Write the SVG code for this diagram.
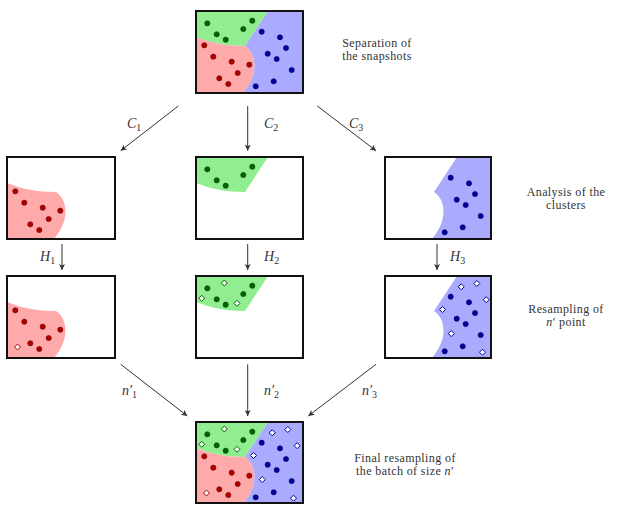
<svg xmlns="http://www.w3.org/2000/svg" xmlns:xlink="http://www.w3.org/1999/xlink" width="618" height="506" viewBox="0 0 618 506">
<style>
.box{fill:none;stroke:#111;stroke-width:2}
.g{fill:#90ee90}.r{fill:#ffaaaa}.b{fill:#aaaaff}
.gd{fill:#006400;stroke:#004000;stroke-width:0.6}
.rd{fill:#b00000;stroke:#700000;stroke-width:0.6}
.bd{fill:#0000a0;stroke:#000060;stroke-width:0.6}
.gn{fill:#fff;stroke:#006400;stroke-width:1}
.rn{fill:#fff;stroke:#b00000;stroke-width:1}
.bn{fill:#fff;stroke:#0000a0;stroke-width:1}
.ln{stroke:#333;stroke-width:1;fill:none;marker-end:url(#ah)}
.m{font-family:"Liberation Serif","DejaVu Serif",serif;font-style:italic;font-size:14px;fill:#333}
.s{font-family:"Liberation Serif","DejaVu Serif",serif;font-style:normal;font-size:10px;fill:#333}
.t{font-family:"Liberation Serif","DejaVu Serif",serif;font-size:12px;letter-spacing:0.4px;fill:#333;text-anchor:middle}
</style>
<defs>
<marker id="ah" markerWidth="8" markerHeight="8" refX="6" refY="3" orient="auto" markerUnits="userSpaceOnUse">
<path d="M0,0 L6,3 L0,6 L1.5,3 Z" fill="#333"/>
</marker>
<path id="pg" d="M0,0 L72,0 L49,35 C30,35 15,32 0,26 Z"/>
<path id="pr" d="M0,26 C15,32 30,35 49,35 C60,42 64,62 47,82 L0,82 Z"/>
<path id="pb" d="M72,0 L107,0 L107,82 L47,82 C64,62 60,42 49,35 Z"/>
<circle id="d" r="2.6"/>
<polygon id="dm" points="0,-3 3,0 0,3 -3,0"/>
<g id="gdots" class="gd">
<use href="#d" x="11.3" y="12.3"/><use href="#d" x="56.3" y="9.7"/><use href="#d" x="47.3" y="18"/><use href="#d" x="20.7" y="23.3"/><use href="#d" x="29.7" y="28.7"/>
</g>
<g id="rdots" class="rd">
<use href="#d" x="8.3" y="34.3"/><use href="#d" x="17.3" y="45.7"/><use href="#d" x="35.7" y="50.7"/><use href="#d" x="53.3" y="53.7"/><use href="#d" x="41.7" y="62"/><use href="#d" x="23.3" y="67.3"/><use href="#d" x="32.3" y="73"/>
</g>
<g id="bdots" class="bd">
<use href="#d" x="65.7" y="20.7"/><use href="#d" x="84" y="26.3"/><use href="#d" x="90" y="37"/><use href="#d" x="71.7" y="42.7"/><use href="#d" x="80.7" y="48"/><use href="#d" x="95.7" y="59"/><use href="#d" x="77.7" y="70.3"/><use href="#d" x="59.7" y="75.3"/>
</g>
<g id="gnew" class="gn">
<use href="#dm" x="28.3" y="7"/><use href="#dm" x="5.7" y="22.3"/><use href="#dm" x="41" y="27.3"/>
</g>
<g id="rnew" class="rn">
<use href="#dm" x="10.5" y="71"/>
</g>
<g id="bnew" class="bn">
<use href="#dm" x="76.2" y="10.8"/><use href="#dm" x="91.8" y="7.5"/><use href="#dm" x="101.2" y="23.7"/><use href="#dm" x="57.5" y="33.5"/><use href="#dm" x="66.3" y="57.6"/><use href="#dm" x="97.5" y="76.2"/>
</g>
</defs>

<g id="connectors">
<line class="ln" x1="178.3" y1="106" x2="120.7" y2="150.7"/>
<line class="ln" x1="247.7" y1="106" x2="247.7" y2="150.7"/>
<line class="ln" x1="317.3" y1="106" x2="376" y2="150.7"/>
<line class="ln" x1="62" y1="244" x2="62" y2="270"/>
<line class="ln" x1="247.7" y1="244" x2="247.7" y2="270"/>
<line class="ln" x1="437" y1="244" x2="437" y2="270"/>
<line class="ln" x1="120.7" y1="364.3" x2="187.3" y2="416"/>
<line class="ln" x1="247.7" y1="364.3" x2="247.7" y2="416"/>
<line class="ln" x1="376" y1="364.3" x2="308.3" y2="416"/>
<text class="m" x="127" y="128">C<tspan class="s" dy="3">1</tspan></text>
<text class="m" x="264" y="128">C<tspan class="s" dy="3">2</tspan></text>
<text class="m" x="349" y="128">C<tspan class="s" dy="3">3</tspan></text>
<text class="m" x="40" y="261">H<tspan class="s" dy="3">1</tspan></text>
<text class="m" x="264" y="261">H<tspan class="s" dy="3">2</tspan></text>
<text class="m" x="450" y="261">H<tspan class="s" dy="3">3</tspan></text>
<text class="m" x="122" y="395">n′<tspan class="s" dy="3">1</tspan></text>
<text class="m" x="264" y="395">n′<tspan class="s" dy="3">2</tspan></text>
<text class="m" x="362" y="395">n′<tspan class="s" dy="3">3</tspan></text>
</g>

<g id="snapshots" transform="translate(196,11)">
<use href="#pg" class="g"/><use href="#pr" class="r"/><use href="#pb" class="b"/>
<use href="#gdots"/><use href="#rdots"/><use href="#bdots"/>
<rect class="box" width="107" height="82"/>
</g>
<g id="cluster1" transform="translate(7,157)">
<use href="#pr" class="r"/><use href="#rdots"/>
<rect class="box" width="108" height="82"/>
</g>
<g id="cluster2" transform="translate(196,157)">
<use href="#pg" class="g"/><use href="#gdots"/>
<rect class="box" width="107" height="82"/>
</g>
<g id="cluster3" transform="translate(385,157)">
<use href="#pb" class="b"/><use href="#bdots"/>
<rect class="box" width="106" height="82"/>
</g>
<g id="resample1" transform="translate(7,276)">
<use href="#pr" class="r"/><use href="#rdots"/><use href="#rnew"/>
<rect class="box" width="108" height="82"/>
</g>
<g id="resample2" transform="translate(196,276)">
<use href="#pg" class="g"/><use href="#gdots"/><use href="#gnew"/>
<rect class="box" width="107" height="82"/>
</g>
<g id="resample3" transform="translate(385,276)">
<use href="#pb" class="b"/><use href="#bdots"/><use href="#bnew"/>
<rect class="box" width="106" height="82"/>
</g>
<g id="final" transform="translate(196,422)">
<use href="#pg" class="g"/><use href="#pr" class="r"/><use href="#pb" class="b"/>
<use href="#gdots"/><use href="#rdots"/><use href="#bdots"/>
<use href="#gnew"/><use href="#rnew"/><use href="#bnew"/>
<rect class="box" width="107" height="81"/>
</g>

<g id="labels">
<text class="t" x="377" y="46.5">Separation of</text>
<text class="t" x="377" y="59.8">the snapshots</text>
<text class="t" x="566" y="195.5">Analysis of the</text>
<text class="t" x="566" y="208.8">clusters</text>
<text class="t" x="566" y="312.5">Resampling of</text>
<text class="t" x="566" y="325.8"><tspan font-style="italic">n</tspan>′ point</text>
<text class="t" x="405" y="461.5">Final resampling of</text>
<text class="t" x="405" y="474.8">the batch of size <tspan font-style="italic">n</tspan>′</text>
</g>
</svg>
